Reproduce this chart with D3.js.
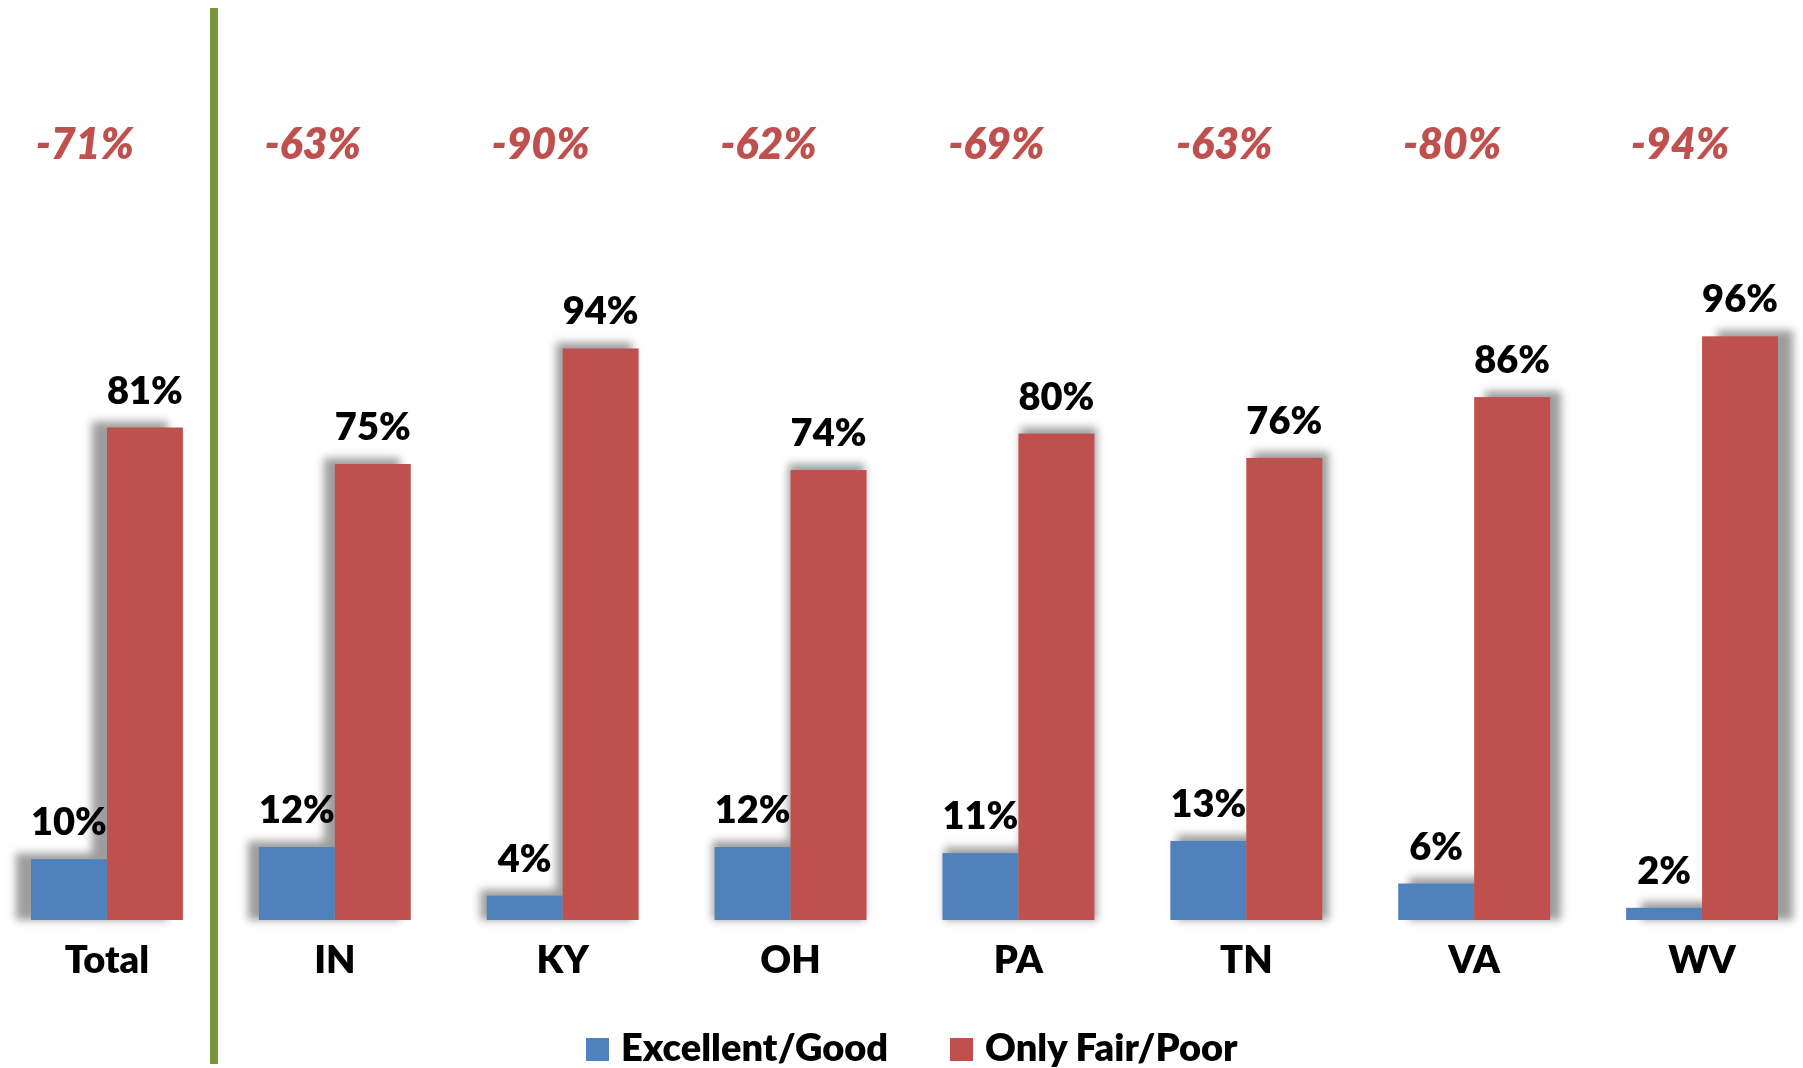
<!DOCTYPE html>
<html>
<head>
<meta charset="utf-8">
<script src="https://cdn.jsdelivr.net/npm/d3@7"></script>
<style>
  body { margin: 0; background: #fff; }
  svg { display: block; font-family: Lato, 'Open Sans', sans-serif; }
</style>
</head>
<body>
<svg id="chart" width="1803" height="1068"></svg>
<script>
const categories = ['Total', 'IN', 'KY', 'OH', 'PA', 'TN', 'VA', 'WV']
const seriesNames = ['Excellent/Good', 'Only Fair/Poor']
const excellentGood = [10, 12, 4, 12, 11, 13, 6, 2]
const onlyFairPoor = [81, 75, 94, 74, 80, 76, 86, 96]
const netDiff = ['-71%', '-63%', '-90%', '-62%', '-69%', '-63%', '-80%', '-94%']
const colors = ['#4f81bd', '#c0504d']

const svg = d3.select('#chart')

const x = d3.scaleBand()
  .domain(categories)
  .range([-7, 1816])
  .padding(0)

const xSeries = d3.scaleBand()
  .domain(seriesNames)
  .range([0, x.bandwidth()])
  .paddingOuter(0.5)
  .paddingInner(0)

const y = d3.scaleLinear()
  .domain([0, 100])
  .range([920, 312])

const rows = categories.map((c, i) => ({
  cat: c,
  diff: netDiff[i],
  values: [excellentGood[i], onlyFairPoor[i]]
}))

const defs = svg.append('defs')
defs.append('filter')
  .attr('id', 'blur')
  .attr('x', '-50%').attr('y', '-50%')
  .attr('width', '200%').attr('height', '200%')
  .append('feGaussianBlur')
  .attr('stdDeviation', 4)

const mid = (x('OH') + x('PA') + x.bandwidth()) / 2

// soft side shadows, leaning away from the middle of the chart
const shadows = svg.append('g').attr('filter', 'url(#blur)')
rows.forEach(r => {
  const cx = x(r.cat) + x.bandwidth() / 2
  const dx = (cx - mid) * 0.019
  r.values.forEach((v, j) => {
    shadows.append('rect')
      .attr('x', x(r.cat) + xSeries(seriesNames[j]) + dx)
      .attr('y', y(v) - 6)
      .attr('width', xSeries.bandwidth())
      .attr('height', y(0) - y(v) + 6)
      .attr('fill', '#8c8c8c')
      .attr('opacity', 0.85)
  })
})

const groups = svg.append('g')
  .selectAll('g')
  .data(rows)
  .join('g')
  .attr('transform', d => `translate(${x(d.cat)},0)`)

groups.selectAll('rect')
  .data(d => d.values.map((v, j) => ({ name: seriesNames[j], v, j })))
  .join('rect')
  .attr('x', d => xSeries(d.name))
  .attr('y', d => y(d.v))
  .attr('width', xSeries.bandwidth())
  .attr('height', d => y(0) - y(d.v))
  .attr('fill', d => colors[d.j])

groups.selectAll('text.val')
  .data(d => d.values.map((v, j) => ({ name: seriesNames[j], v })))
  .join('text')
  .attr('class', 'val')
  .attr('x', d => xSeries(d.name) + xSeries.bandwidth() / 2)
  .attr('y', d => y(d.v) - 24)
  .attr('text-anchor', 'middle')
  .style('font-size', '38px')
  .style('font-weight', 800)
  .attr('fill', '#000')
  .text(d => d.v + '%')

groups.append('text')
  .attr('x', x.bandwidth() / 2 - 22)
  .attr('y', 159)
  .attr('text-anchor', 'middle')
  .style('font-size', '43px')
  .style('font-weight', 800)
  .style('font-style', 'italic')
  .attr('fill', '#c0504d')
  .text(d => d.diff)

// category labels
const axis = svg.append('g')
  .attr('transform', `translate(0,${y(0)})`)
  .call(d3.axisBottom(x).tickSize(0).tickPadding(26))
axis.select('.domain').remove()
axis.selectAll('text')
  .style('font-family', 'Lato, sans-serif')
  .style('font-size', '38px')
  .style('font-weight', 800)
  .attr('fill', '#000')

// separator between Total and the states
svg.append('line')
  .attr('x1', 214).attr('x2', 214)
  .attr('y1', 8).attr('y2', 1064)
  .attr('stroke', '#77933c')
  .attr('stroke-width', 8)

// legend
const legendX = [586, 950]
const legend = svg.append('g')
seriesNames.forEach((name, i) => {
  legend.append('rect')
    .attr('x', legendX[i])
    .attr('y', 1038)
    .attr('width', 23)
    .attr('height', 23)
    .attr('fill', colors[i])
  legend.append('text')
    .attr('x', legendX[i] + 35)
    .attr('y', 1061)
    .style('font-size', '38px')
    .style('font-weight', 800)
    .attr('fill', '#000')
    .text(name)
})
</script>
</body>
</html>
